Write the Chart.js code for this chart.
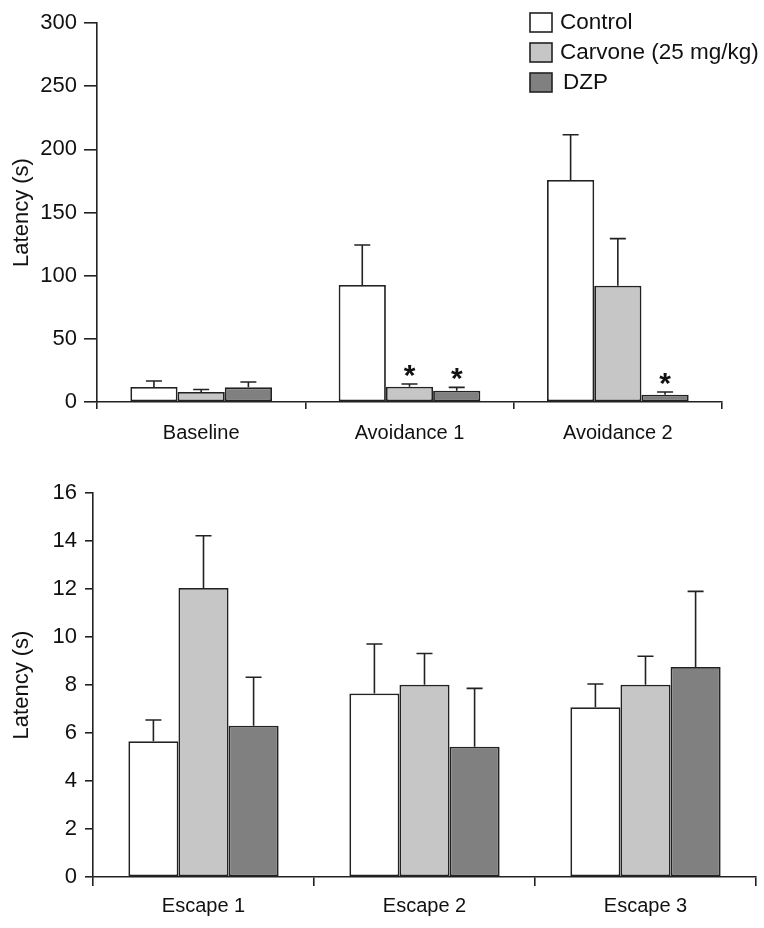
<!DOCTYPE html>
<html>
<head>
<meta charset="utf-8">
<script src="https://cdn.jsdelivr.net/npm/chart.js@4.4.0/dist/chart.umd.min.js"></script>
<style>
  body { margin: 0; background: #fff; }
  .wrap { position: relative; width: 764px; height: 928px; }
  #topChart { position: absolute; left: 0; top: 0; }
  #bottomChart { position: absolute; left: 0; top: 465px; }
</style>
</head>
<body>
<div class="wrap">
  <canvas id="topChart" width="764" height="465"></canvas>
  <canvas id="bottomChart" width="764" height="463"></canvas>
</div>
<script>
// top panel: avoidance
const topLabels = ['Baseline', 'Avoidance 1', 'Avoidance 2'];
const topControl = [11.9, 92.6, 175.7];
const topCarvone = [7.9, 12.1, 92.1];
const topDzp = [11.6, 8.9, 5.8];
const topControlErr = [4.7, 31.7, 35.9];
const topCarvoneErr = [2.0, 2.1, 37.2];
const topDzpErr = [4.2, 2.7, 2.1];
const topCarvoneSig = [false, true, false];
const topDzpSig = [false, true, true];
const topTicks = [0, 50, 100, 150, 200, 250, 300];

// bottom panel: escape
const bottomLabels = ['Escape 1', 'Escape 2', 'Escape 3'];
const bottomControl = [5.66, 7.65, 7.07];
const bottomCarvone = [12.04, 8.01, 8.01];
const bottomDzp = [6.30, 5.43, 8.75];
const bottomControlErr = [0.88, 2.06, 0.97];
const bottomCarvoneErr = [2.18, 1.30, 1.19];
const bottomDzpErr = [2.02, 2.43, 3.15];
const bottomTicks = [0, 2, 4, 6, 8, 10, 12, 14, 16];

const seriesNames = ['Control', 'Carvone (25 mg/kg)', 'DZP'];
const seriesColors = ['#ffffff', '#c6c6c6', '#808080'];

const ink = '#222222';
const fontFamily = "'Liberation Sans', Arial, Helvetica, sans-serif";

// error bars + asterisks
const errorBarPlugin = {
  id: 'errorBars',
  afterDatasetsDraw(chart) {
    const ctx = chart.ctx;
    const yScale = chart.scales.y;
    ctx.save();
    ctx.strokeStyle = ink;
    ctx.lineWidth = 1.6;
    chart.data.datasets.forEach((ds, di) => {
      const meta = chart.getDatasetMeta(di);
      meta.data.forEach((bar, i) => {
        const v = ds.data[i];
        const top = yScale.getPixelForValue(v + ds.errors[i]);
        const base = yScale.getPixelForValue(v);
        ctx.beginPath();
        ctx.moveTo(bar.x, base);
        ctx.lineTo(bar.x, top);
        ctx.moveTo(bar.x - 8, top);
        ctx.lineTo(bar.x + 8, top);
        ctx.stroke();
        if (ds.sig && ds.sig[i]) {
          ctx.fillStyle = '#111';
          ctx.font = 'bold 30px ' + fontFamily;
          ctx.textAlign = 'center';
          ctx.textBaseline = 'alphabetic';
          ctx.fillText('*', bar.x, top + 1);
        }
      });
    });
    ctx.restore();
  }
};

// legend box in the top right of the top panel
const boxLegendPlugin = {
  id: 'boxLegend',
  afterDraw(chart, args, opts) {
    if (!opts.show) return;
    const ctx = chart.ctx;
    ctx.save();
    ctx.font = '22.5px ' + fontFamily;
    ctx.textBaseline = 'middle';
    ctx.textAlign = 'left';
    chart.data.datasets.forEach((ds, i) => {
      const y = 13 + i * 30;
      ctx.fillStyle = ds.backgroundColor;
      ctx.fillRect(530, y, 22, 19);
      ctx.strokeStyle = ink;
      ctx.lineWidth = 1.6;
      ctx.strokeRect(530, y, 22, 19);
      ctx.fillStyle = '#111';
      ctx.fillText(ds.label, i === 2 ? 563 : 560, y + 10);
    });
    ctx.restore();
  }
};

function makeDatasets(values, errors, sigs) {
  return values.map((vals, k) => ({
    label: seriesNames[k],
    data: vals,
    errors: errors[k],
    sig: sigs[k],
    backgroundColor: seriesColors[k],
    borderColor: ink,
    borderWidth: 1.8,
    borderSkipped: false,
    categoryPercentage: 0.68,
    barPercentage: 1.0
  }));
}

function makeChart(id, cfg) {
  return new Chart(document.getElementById(id), {
    type: 'bar',
    data: {
      labels: cfg.labels,
      datasets: makeDatasets(cfg.values, cfg.errors, cfg.sigs)
    },
    plugins: [errorBarPlugin, boxLegendPlugin],
    options: {
      responsive: false,
      animation: false,
      devicePixelRatio: 1,
      layout: { padding: cfg.padding },
      plugins: {
        legend: { display: false },
        tooltip: { enabled: false },
        boxLegend: { show: cfg.showLegend }
      },
      scales: {
        x: {
          offset: true,
          afterFit(scale) { scale.height = cfg.xHeight; },
          grid: {
            display: true,
            drawOnChartArea: false,
            drawTicks: true,
            tickLength: cfg.xTick,
            offset: true,
            color: ink,
            lineWidth: 1.6
          },
          border: { display: true, color: ink, width: 1.6 },
          ticks: {
            color: '#111',
            padding: cfg.xPad,
            font: { family: fontFamily, size: 20 }
          }
        },
        y: {
          min: cfg.ticks[0],
          max: cfg.ticks[cfg.ticks.length - 1],
          afterFit(scale) { scale.width = cfg.yWidth; },
          afterBuildTicks(scale) { scale.ticks = cfg.ticks.map(v => ({ value: v })); },
          grid: {
            display: true,
            drawOnChartArea: false,
            drawTicks: true,
            tickLength: cfg.yTick,
            color: ink,
            lineWidth: 1.6
          },
          border: { display: true, color: ink, width: 1.6 },
          ticks: {
            color: '#111',
            padding: cfg.yPad,
            font: { family: fontFamily, size: 22 }
          },
          title: {
            display: true,
            text: 'Latency (s)',
            color: '#111',
            font: { family: fontFamily, size: 22 },
            padding: { top: 9, bottom: 0 }
          }
        }
      }
    }
  });
}

makeChart('topChart', {
  labels: topLabels,
  values: [topControl, topCarvone, topDzp],
  errors: [topControlErr, topCarvoneErr, topDzpErr],
  sigs: [null, topCarvoneSig, topDzpSig],
  ticks: topTicks,
  padding: { left: 0, right: 42, top: 23, bottom: 0 },
  xHeight: 63, xTick: 7, xPad: 12,
  yWidth: 97, yTick: 13, yPad: 7,
  showLegend: true
});

makeChart('bottomChart', {
  labels: bottomLabels,
  values: [bottomControl, bottomCarvone, bottomDzp],
  errors: [bottomControlErr, bottomCarvoneErr, bottomDzpErr],
  sigs: [null, null, null],
  ticks: bottomTicks,
  padding: { left: 0, right: 8, top: 28, bottom: 0 },
  xHeight: 51, xTick: 9, xPad: 8,
  yWidth: 93, yTick: 8, yPad: 8,
  showLegend: false
});
</script>
</body>
</html>
